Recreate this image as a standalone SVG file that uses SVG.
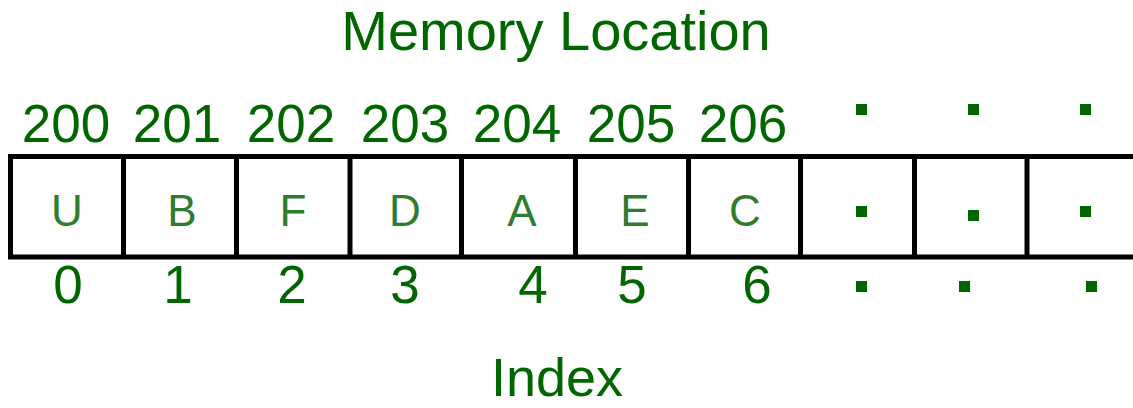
<svg xmlns="http://www.w3.org/2000/svg" width="1133" height="408" viewBox="0 0 1133 408">
<style>
.t{font-family:"Liberation Sans",Arial,sans-serif;fill:#006600;text-anchor:middle}
.title{font-size:56px}
.idx{font-size:54px}
.num{font-size:53px}
.val{font-size:44px;fill:#2e7d2e}
.dot{fill:#006600}
.ln{stroke:#000;stroke-width:5;fill:none}
</style>
<rect width="1133" height="408" fill="#fff"/>
<g id="title"><text class="t title" x="556" y="50">Memory Location</text></g>
<g id="addresses">
<text class="t num" x="66" y="142">200</text>
<text class="t num" x="177" y="142">201</text>
<text class="t num" x="291" y="142">202</text>
<text class="t num" x="405" y="142">203</text>
<text class="t num" x="517" y="142">204</text>
<text class="t num" x="631" y="142">205</text>
<text class="t num" x="743" y="142">206</text>
<rect class="dot" x="856" y="104" width="11" height="11"/>
<rect class="dot" x="968" y="104" width="11" height="11"/>
<rect class="dot" x="1080" y="104" width="11" height="11"/>
</g>
<g id="array">
<path class="ln" d="M8 156.5H1133M8 257H1133M10.5 154V259.5M123.5 154V259.5M236.5 154V259.5M350 154V259.5M461.5 154V259.5M575.5 154V259.5M688.5 154V259.5M800.5 154V259.5M914.5 154V259.5M1027 154V259.5"/>
</g>
<g id="cell0"><text class="t val" x="67" y="226">U</text></g>
<g id="cell1"><text class="t val" x="182" y="226">B</text></g>
<g id="cell2"><text class="t val" x="293" y="226">F</text></g>
<g id="cell3"><text class="t val" x="405" y="226">D</text></g>
<g id="cell4"><text class="t val" x="522" y="226">A</text></g>
<g id="cell5"><text class="t val" x="635" y="226">E</text></g>
<g id="cell6"><text class="t val" x="745" y="226">C</text></g>
<g id="cell7"><rect class="dot" x="856" y="206" width="11" height="11"/></g>
<g id="cell8"><rect class="dot" x="968" y="210" width="11" height="11"/></g>
<g id="cell9"><rect class="dot" x="1080" y="206" width="11" height="11"/></g>
<g id="indices">
<text class="t num" x="68" y="303">0</text>
<text class="t num" x="178" y="303">1</text>
<text class="t num" x="292" y="303">2</text>
<text class="t num" x="405" y="303">3</text>
<text class="t num" x="533" y="303">4</text>
<text class="t num" x="632" y="303">5</text>
<text class="t num" x="757" y="303">6</text>
<rect class="dot" x="856" y="281" width="11" height="11"/>
<rect class="dot" x="959" y="281" width="11" height="11"/>
<rect class="dot" x="1086" y="281" width="11" height="11"/>
</g>
<g id="index-label"><text class="t idx" x="557" y="396">Index</text></g>
</svg>
